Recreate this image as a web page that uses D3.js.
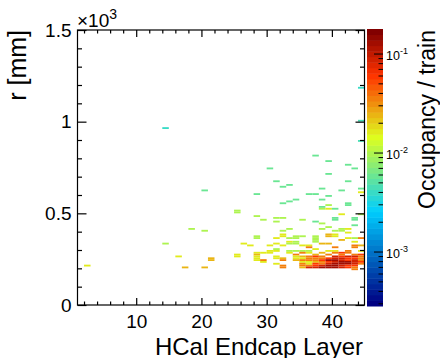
<!DOCTYPE html>
<html><head><meta charset="utf-8">
<script src="https://cdn.jsdelivr.net/npm/d3@7"></script>
<style>
body{margin:0;background:#fff}
svg{display:block}
text{font-family:"Liberation Sans",Arial,Helvetica,sans-serif;fill:#000}
</style>
</head><body>
<svg id="chart" width="440" height="358"></svg>
<script>
// ---- data: occupancy per (layer, radius bin of 10 mm) ----
const rowRadii = [1180,1000,960,890,810,780,760,740,710,670,650,640,630,620,610,600,590,570,560,550,540,530,520,510,500,490,480,470,460,450,440,430,420,410,400,390,380,370,360,350,340,330,320,310,300,290,280,270,260,250,240,230,220,210,200,190];
const rowLayers = [
 [44],[44],[14],[44],[37],[39],[42],[30,43],[39],[31,42],[33],[32],[38,44],[20,41],[44],[28,36,37],[39],[34,38],[33],[32,42],[39,42],[38],[38,39,40],[25],[25],[41,44],[28],
 [31,32,40,43],[29,35,40,43],[31,37],[38],[43],[39],[18,33,38,41,42],[20,32,40,41],[42],[32,39,40],[28,32,34,35,37,39,40],[28,31,33,34,37,42,43,44],[37,41],[33,34,37,43],
 [14,26,31,33,34,38,39],[27,30,32,35,36,43,44],[36,40,43],[31,37],[30,31,33,34,35,36,39,40,42,44],[28,29,30,33,35,36,38,40,41,42],[25,28,34,37,39,41,43,44],
 [16,25,28,31,34,35,36,37,38,40,41,42,43,44],[21,28,31,32,34,35,36,37,38,39,40,41,42,43,44],[21,28,29,32,34,35,36,37,38,39,40,41,42,43,44],
 [29,35,36,37,38,39,40,41,42,43,44],[31,35,36,37,38,39,40,41,42,43,44],[2,32,35,36,37,38,39,40,41,42,43],[17,20,32,35,36,37,38,39,40,41,42,43],[43]
];
const rowOccupancy = [
 [0.0038],[0.0044],[0.0038],[0.0044],[0.0057],[0.0057],[0.0057],[0.0057,0.0057],[0.0057],[0.0057,0.0057],[0.0057],[0.0057],[0.0057,0.0057],[0.0057,0.0057],[0.0156],[0.0057,0.0057,0.0057],[0.0057],[0.0057,0.0057],[0.0057],[0.0057,0.0057],[0.010,0.0057],[0.0057],[0.010,0.0156,0.0057],[0.010],[0.010],[0.0156,0.010],[0.010],
 [0.010,0.010,0.0057,0.0057],[0.010,0.010,0.0057,0.0057],[0.010,0.0057],[0.010],[0.0057],[0.010],[0.010,0.010,0.010,0.010,0.0156],[0.010,0.010,0.010,0.010],[0.0156],[0.0156,0.023,0.0156],[0.010,0.0156,0.010,0.010,0.010,0.023,0.0156],[0.010,0.0156,0.010,0.010,0.010,0.0156,0.010,0.037],[0.010,0.023],[0.0156,0.010,0.010,0.0156],
 [0.010,0.0156,0.0156,0.010,0.010,0.023,0.023],[0.0156,0.0156,0.0156,0.0156,0.0156,0.037,0.023],[0.037,0.037,0.037],[0.010,0.0156],[0.0156,0.0156,0.010,0.010,0.010,0.010,0.0156,0.0156,0.037,0.0156],[0.0156,0.0156,0.0156,0.0156,0.037,0.0156,0.023,0.037,0.059,0.037],[0.0156,0.023,0.037,0.023,0.037,0.037,0.037,0.059],
 [0.0156,0.0156,0.0156,0.0156,0.0156,0.023,0.037,0.059,0.037,0.084,0.059,0.084,0.084,0.037],[0.023,0.0156,0.0156,0.023,0.0156,0.0156,0.037,0.037,0.037,0.059,0.084,0.084,0.059,0.059,0.037],[0.023,0.0156,0.037,0.037,0.023,0.037,0.037,0.037,0.059,0.125,0.125,0.084,0.059,0.084,0.037],
 [0.0156,0.0156,0.0156,0.023,0.037,0.059,0.084,0.125,0.125,0.084,0.059],[0.0156,0.037,0.0156,0.059,0.037,0.084,0.125,0.125,0.125,0.084,0.037],[0.0156,0.037,0.037,0.037,0.059,0.084,0.125,0.125,0.084,0.059,0.059],[0.023,0.023,0.037,0.023,0.084,0.084,0.125,0.125,0.125,0.084,0.059,0.037],[0.037]
];
const xMajorTicks = [10,20,30,40];
const yMajorTicks = [0,500,1000,1500];
const yTickLabels = ["0","0.5","1","1.5"];
const zMajorTicks = [1e-3,1e-2,1e-1];
const zTickExponents = ["-3","-2","-1"];
const zRange = [Math.pow(10,-3.545), Math.pow(10,-0.747)];
const xDomain = [1,45];
const yDomain = [0,1500];
const layerBin = 1, radiusBin = 10;

// palette (gradient, 50 contours)
const stops = [0,0.34,0.61,0.84,1];
const pr = [0,0,0.87,1,0.51], pg = [0,0.81,1,0.2,0], pb = [0.51,1,0.12,0,0];
const nCont = 50;
function grad(t){
  let i=0; while(i<stops.length-2 && t>stops[i+1]) i++;
  const f=(t-stops[i])/(stops[i+1]-stops[i]);
  const c=a=>Math.round(255*(a[i]+(a[i+1]-a[i])*f));
  return `rgb(${c(pr)},${c(pg)},${c(pb)})`;
}
const palette = d3.range(nCont).map(i=>grad(i/(nCont-1)));

const cells = [];
rowRadii.forEach((r,i)=>rowLayers[i].forEach((L,j)=>cells.push({L, r, v: rowOccupancy[i][j]})));

const svg = d3.select("#chart");
const X0=77.5, X1=364.5, Y0=305, Y1=30;
const x = d3.scaleLinear().domain(xDomain).range([X0,X1]);
const y = d3.scaleLinear().domain(yDomain).range([Y0,Y1]);
const zt = d3.scaleLog().domain(zRange).range([0,1]);
const colorOf = v => palette[Math.max(0,Math.min(nCont-1,Math.floor(zt(v)*nCont)))];

svg.append("g").selectAll("rect").data(cells).join("rect")
  .attr("x",d=>x(d.L)).attr("width",d=>x(d.L+layerBin)-x(d.L))
  .attr("y",d=>y(d.r+radiusBin)).attr("height",d=>y(d.r)-y(d.r+radiusBin))
  .attr("fill",d=>colorOf(d.v));

// frame
svg.append("rect").attr("x",X0).attr("y",Y1).attr("width",X1-X0).attr("height",Y0-Y1)
  .attr("fill","none").attr("stroke","#000").attr("stroke-width",1.2);

const xMinor = d3.range(2,45,2).filter(v=>!xMajorTicks.includes(v));
const yMinor = d3.range(100,1500,100).filter(v=>!yMajorTicks.includes(v));
function styleAx(g){ g.select(".domain").remove(); g.selectAll("line").attr("stroke","#000").attr("stroke-width",1.2);
  g.attr("font-family",null).attr("font-size",19); }

svg.append("g").attr("transform",`translate(0,${Y0})`)
  .call(d3.axisBottom(x).tickValues(xMajorTicks).tickSize(-7).tickPadding(9.5).tickFormat(d3.format("d"))).call(styleAx);
svg.append("g").attr("transform",`translate(0,${Y0})`)
  .call(d3.axisBottom(x).tickValues(xMinor).tickSize(-3.5).tickFormat("")).call(styleAx);
svg.append("g").attr("transform",`translate(0,${Y1})`)
  .call(d3.axisTop(x).tickValues(xMajorTicks).tickSize(-7).tickFormat("")).call(styleAx);
svg.append("g").attr("transform",`translate(0,${Y1})`)
  .call(d3.axisTop(x).tickValues(xMinor).tickSize(-3.5).tickFormat("")).call(styleAx);
svg.append("g").attr("transform",`translate(${X0},0)`)
  .call(d3.axisLeft(y).tickValues(yMajorTicks).tickSize(-9).tickPadding(6).tickFormat((d,i)=>yTickLabels[i])).call(styleAx);
svg.append("g").attr("transform",`translate(${X0},0)`)
  .call(d3.axisLeft(y).tickValues(yMinor).tickSize(-4.5).tickFormat("")).call(styleAx);
svg.append("g").attr("transform",`translate(${X1},0)`)
  .call(d3.axisRight(y).tickValues(yMajorTicks).tickSize(-9).tickFormat("")).call(styleAx);
svg.append("g").attr("transform",`translate(${X1},0)`)
  .call(d3.axisRight(y).tickValues(yMinor).tickSize(-4.5).tickFormat("")).call(styleAx);

// exponent marker
const ex = svg.append("text").attr("x",77).attr("y",27).attr("font-size",19).text("\u00d710");
ex.append("tspan").attr("dy",-8).attr("font-size",14).text("3");

// axis titles
svg.append("text").attr("x",363).attr("y",354.5).attr("text-anchor","end").attr("font-size",24).text("HCal Endcap Layer");
svg.append("text").attr("transform","translate(26,30) rotate(-90)").attr("text-anchor","end").attr("font-size",25).text("r [mm]");

// colour bar
const CB0=367, CB1=383, CBT=29, CBB=306;
const zs = d3.scaleLog().domain(zRange).range([CBB,CBT]);
const lz0=Math.log10(zRange[0]), lz1=Math.log10(zRange[1]);
const levels = d3.range(nCont+1).map(i=>Math.pow(10,lz0+(lz1-lz0)*i/nCont));
svg.append("g").selectAll("rect").data(d3.range(nCont)).join("rect")
  .attr("x",CB0).attr("width",CB1-CB0)
  .attr("y",i=>zs(levels[i+1])).attr("height",i=>zs(levels[i])-zs(levels[i+1])+0.5)
  .attr("fill",i=>palette[i]);
const zMinor=[];
[-4,-3,-2,-1].forEach(e=>{for(let k=2;k<=9;k++){const v=k*Math.pow(10,e); if(v>zRange[0]&&v<zRange[1]) zMinor.push(v);}});
svg.append("g").selectAll("line").data(zMinor).join("line")
  .attr("x1",CB1).attr("x2",CB1-4.5).attr("y1",d=>zs(d)).attr("y2",d=>zs(d)).attr("stroke","#000").attr("stroke-width",1);
svg.append("g").selectAll("line").data(zMajorTicks).join("line")
  .attr("x1",CB1).attr("x2",CB1-9).attr("y1",d=>zs(d)).attr("y2",d=>zs(d)).attr("stroke","#000").attr("stroke-width",1);
const zl = svg.append("g").selectAll("text").data(zMajorTicks).join("text")
  .attr("x",386).attr("y",d=>zs(d)+6).attr("font-size",12.5).text("10");
zl.append("tspan").attr("dy",-6).attr("font-size",9).text((d,i)=>zTickExponents[i]);
svg.append("text").attr("transform","translate(434.5,30) rotate(-90)").attr("text-anchor","end").attr("font-size",23).text("Occupancy / train");
</script>
</body></html>
